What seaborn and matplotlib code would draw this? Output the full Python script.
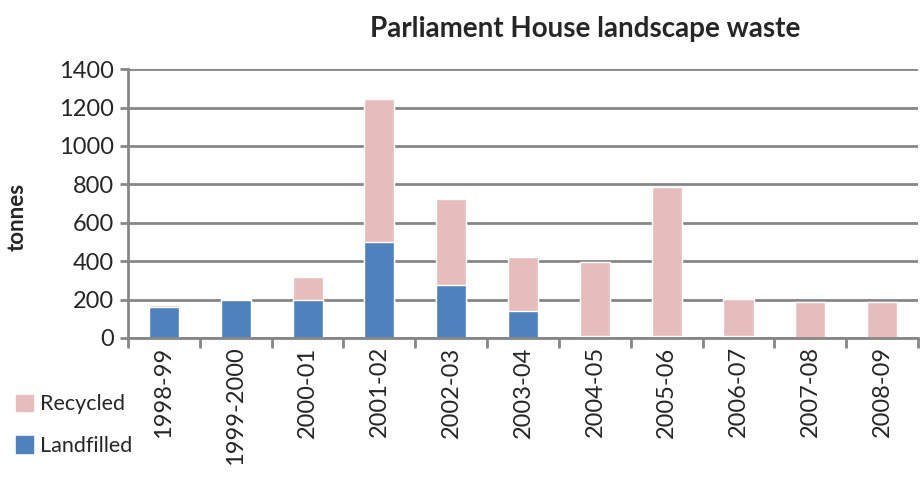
import numpy as np
import pandas as pd
import matplotlib
matplotlib.use('Agg')
import matplotlib.pyplot as plt
import matplotlib.patches as mpatches
import seaborn as sb

years = ['1998-99', '1999-2000', '2000-01', '2001-02', '2002-03', '2003-04',
         '2004-05', '2005-06', '2006-07', '2007-08', '2008-09']
landfilled = [163, 195, 195, 497, 278, 140, 8, 8, 8, 0, 2]
recycled = [7, 8, 120, 748, 445, 282, 390, 780, 197, 185, 183]

pink = '#E6BCBC'
blue = '#4F81BD'
grey = '#868686'

data = pd.DataFrame({'year': years, 'Landfilled': landfilled, 'Recycled': recycled})
data['total'] = data['Landfilled'] + data['Recycled']

sb.set_style('white')
plt.rcParams['font.family'] = ['Lato', 'DejaVu Sans']

fig = plt.figure(figsize=(9.23, 4.8), dpi=100)
ax = fig.add_axes([0.1387, 0.296, 0.856, 0.56])

# stacked look: totals in pink, landfilled drawn over them in blue
sb.barplot(data=data, x='year', y='total', color=pink, width=0.42, saturation=1, ax=ax)
sb.barplot(data=data, x='year', y='Landfilled', color=blue, width=0.42, saturation=1, ax=ax)

ax.set_ylim(0, 1400)
ax.set_xlim(-0.5, len(years) - 0.5)
ax.set_yticks(range(0, 1401, 200))
ax.yaxis.grid(True, color=grey, linewidth=2)
ax.set_axisbelow(True)
for s in ['top', 'right']:
    ax.spines[s].set_visible(False)
for s in ['left', 'bottom']:
    ax.spines[s].set_color(grey)
    ax.spines[s].set_linewidth(2)

ax.set_xticks(np.arange(len(years)))
ax.set_xticklabels(years, rotation=90, fontsize=17)
ax.set_xticks(np.arange(-0.5, len(years)), minor=True)
ax.tick_params(axis='x', which='major', length=0, pad=6)
ax.tick_params(axis='x', which='minor', length=7, width=2, color=grey, direction='out', bottom=True)
ax.tick_params(axis='y', length=6, width=2, color=grey, direction='out', left=True, labelsize=17, pad=4)

ax.set_xlabel('')
ax.set_ylabel('tonnes', fontsize=16, fontweight='bold')
ax.yaxis.set_label_coords(-0.127, 0.45)

fig.text(0.634, 0.94, 'Parliament House landscape waste', ha='center', va='center',
         fontsize=20, fontweight='bold')

handles = [mpatches.Patch(color=pink, label='Recycled'),
           mpatches.Patch(color=blue, label='Landfilled')]
fig.legend(handles=handles, loc='lower left', bbox_to_anchor=(-0.004, 0.01), frameon=False,
           fontsize=15.5, handlelength=0.8, handleheight=0.8, handletextpad=0.35, labelspacing=1.0)

fig.savefig('out.png', dpi=100)
